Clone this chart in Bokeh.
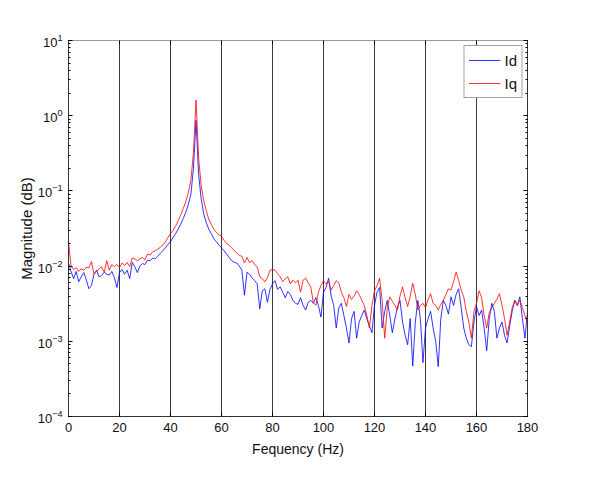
from bokeh.plotting import figure
from bokeh.models import (LinearAxis, LogAxis, SingleIntervalTicker, LogTicker,
                          CustomJSTickFormatter, Legend, LegendItem)
from bokeh.embed import file_html
from bokeh.resources import INLINE

freq = list(range(0, 181))

id_mag = [
    0.0110, 0.0085, 0.0068, 0.0085, 0.0062, 0.0072, 0.0082, 0.0065, 0.0050, 0.0055,
    0.0078, 0.0088, 0.0072, 0.0075, 0.0083, 0.0078, 0.0076, 0.0085, 0.0070, 0.0052,
    0.0082, 0.0090, 0.0078, 0.0088, 0.0068, 0.0112, 0.0098, 0.0082, 0.0100, 0.0108,
    0.0105, 0.0120, 0.0118, 0.0128, 0.0125, 0.0135, 0.0148, 0.0160, 0.0175, 0.0195,
    0.021, 0.024, 0.027, 0.031, 0.036, 0.043, 0.052, 0.066, 0.090, 0.20,
    0.87, 0.17, 0.080, 0.050, 0.038, 0.031, 0.027, 0.023, 0.021, 0.019,
    0.0175, 0.0160, 0.0145, 0.0130, 0.0118, 0.0112, 0.0110, 0.0100, 0.0088, 0.0041,
    0.0083, 0.0078, 0.0070, 0.0064, 0.0058, 0.0027, 0.0047, 0.0050, 0.0033, 0.0049,
    0.0058, 0.0064, 0.0049, 0.0053, 0.0045, 0.0038, 0.0046, 0.0042, 0.0035, 0.0032,
    0.0031, 0.0038, 0.0030, 0.0026, 0.0033, 0.0035, 0.0032, 0.0038, 0.0030, 0.0021,
    0.0045, 0.0052, 0.0069, 0.0040, 0.0030, 0.0015, 0.0028, 0.0032, 0.0022, 0.0015,
    0.00095, 0.0020, 0.0025, 0.0011, 0.0018, 0.0022, 0.0026, 0.0020, 0.0016, 0.0013,
    0.0030, 0.0045, 0.0052, 0.0015, 0.0025, 0.0035, 0.0022, 0.0013, 0.0020, 0.0028,
    0.0035, 0.0018, 0.0012, 0.0009, 0.0020, 0.00047, 0.0018, 0.0035, 0.0020, 0.00052,
    0.0015, 0.0020, 0.0025, 0.0015, 0.0010, 0.00046, 0.0020, 0.0035, 0.0030, 0.0023,
    0.0039, 0.0030, 0.0042, 0.0050, 0.0028, 0.0015, 0.0011, 0.0009, 0.00085, 0.0018,
    0.0029, 0.0022, 0.0026, 0.0015, 0.00075, 0.0020, 0.0032, 0.0025, 0.0011, 0.0015,
    0.0018, 0.0012, 0.00095, 0.0016, 0.0025, 0.0035, 0.0030, 0.0039, 0.0020, 0.0011,
    0.0025,
]

iq_mag = [
    0.021, 0.0100, 0.0090, 0.0095, 0.0085, 0.0092, 0.0088, 0.0097, 0.0095, 0.0115,
    0.0078, 0.0085, 0.0092, 0.0098, 0.0082, 0.0118, 0.0088, 0.0105, 0.0098, 0.0105,
    0.0095, 0.0110, 0.0102, 0.0112, 0.0098, 0.0128, 0.0125, 0.0118, 0.0125, 0.0130,
    0.0122, 0.0145, 0.0140, 0.0155, 0.0160, 0.0168, 0.0178, 0.0190, 0.0210, 0.0240,
    0.027, 0.030, 0.034, 0.040, 0.048, 0.058, 0.072, 0.095, 0.14, 0.32,
    1.62, 0.28, 0.12, 0.075, 0.055, 0.042, 0.036, 0.031, 0.028, 0.026,
    0.025, 0.022, 0.020, 0.019, 0.0175, 0.0160, 0.0150, 0.0138, 0.0135, 0.0110,
    0.0130, 0.0112, 0.0118, 0.0105, 0.0098, 0.0072, 0.0068, 0.0062, 0.0070, 0.0088,
    0.0090, 0.0088, 0.0080, 0.0072, 0.0062, 0.0068, 0.0072, 0.0058, 0.0065, 0.0060,
    0.0065, 0.0045, 0.0065, 0.0069, 0.0060, 0.0053, 0.0033, 0.0030, 0.0045, 0.0055,
    0.0064, 0.0058, 0.0062, 0.0048, 0.0055, 0.0064, 0.0060, 0.0045, 0.0038, 0.0029,
    0.0042, 0.0036, 0.0040, 0.0047, 0.0042, 0.0035, 0.0030, 0.0022, 0.0015, 0.0030,
    0.0047, 0.0055, 0.0069, 0.0035, 0.0011, 0.0028, 0.0039, 0.0034, 0.0030, 0.0026,
    0.0040, 0.0053, 0.0038, 0.0029, 0.0040, 0.0059, 0.0042, 0.0026, 0.0030, 0.0032,
    0.0028, 0.0036, 0.0043, 0.0032, 0.0030, 0.0026, 0.0031, 0.0035, 0.0042, 0.0050,
    0.0048, 0.0062, 0.0083, 0.0065, 0.0048, 0.0039, 0.0025, 0.0018, 0.0011, 0.0025,
    0.0032, 0.0047, 0.0038, 0.0022, 0.0015, 0.0024, 0.0028, 0.0032, 0.0036, 0.0043,
    0.0030, 0.0020, 0.0012, 0.0018, 0.0028, 0.0035, 0.0030, 0.0035, 0.0028, 0.0022,
    0.0017,
]

x_label = "Fequency (Hz)"
y_label = "Magnitude (dB)"
series_names = ["Id", "Iq"]

FONT = "Liberation Sans"

p = figure(width=591, height=489, x_range=(0, 180), y_range=(1e-4, 10),
           y_axis_type="log", output_backend="svg", toolbar_location=None,
           min_border_left=68, min_border_right=64, min_border_top=40,
           min_border_bottom=73)
p.background_fill_color = "white"
p.border_fill_color = "white"
p.outline_line_color = "#444444"
p.outline_line_width = 1

# grid: vertical only
p.ygrid.visible = False
p.xgrid.ticker = SingleIntervalTicker(interval=20)
p.xgrid.grid_line_color = "#3a3a3a"
p.xgrid.grid_line_width = 1

# bottom axis
xa = p.xaxis[0]
xa.ticker = SingleIntervalTicker(interval=20)
xa.major_tick_in = 4
xa.major_tick_out = 0
xa.minor_tick_in = 0
xa.minor_tick_out = 0
xa.axis_line_color = "#333333"
xa.major_tick_line_color = "#000000"
xa.major_label_text_font = FONT
xa.major_label_text_font_size = "13px"
xa.major_label_text_color = "#111111"
xa.major_label_standoff = 6
xa.axis_label = x_label
xa.axis_label_text_font = FONT
xa.axis_label_text_font_size = "14px"
xa.axis_label_text_font_style = "normal"
xa.axis_label_text_color = "#111111"
xa.axis_label_standoff = 6

# left axis
ya = p.yaxis[0]
ya.ticker = LogTicker(num_minor_ticks=10)
ya.major_tick_in = 4
ya.major_tick_out = 0
ya.minor_tick_in = 2
ya.minor_tick_out = 0
ya.axis_line_color = "#333333"
ya.major_label_text_font = FONT
ya.major_label_text_font_size = "13px"
ya.major_label_text_color = "#111111"
ya.major_label_standoff = 6
ya.axis_label = y_label
ya.axis_label_text_font = FONT
ya.axis_label_text_font_size = "15px"
ya.axis_label_text_font_style = "normal"
ya.axis_label_text_color = "#111111"
ya.axis_label_standoff = 0

blank = CustomJSTickFormatter(code="return ''")

top = LinearAxis(ticker=SingleIntervalTicker(interval=20), formatter=blank,
                 major_tick_in=4, major_tick_out=0, minor_tick_in=0, minor_tick_out=0,
                 axis_line_color="#999999", major_label_standoff=0)
p.add_layout(top, "above")

right = LogAxis(ticker=LogTicker(num_minor_ticks=10), formatter=blank,
                major_tick_in=4, major_tick_out=0, minor_tick_in=2, minor_tick_out=0,
                axis_line_color="#333333", major_label_standoff=0)
p.add_layout(right, "right")

r_id = p.line(freq, id_mag, line_color="#0000FF", line_width=1, line_alpha=0.8)
r_iq = p.line(freq, iq_mag, line_color="#FF0000", line_width=1, line_alpha=0.8)

legend = Legend(items=[LegendItem(label=series_names[0], renderers=[r_id]),
                       LegendItem(label=series_names[1], renderers=[r_iq])],
                location="top_right")
legend.margin = 5
legend.padding = 4
legend.spacing = 3
legend.glyph_width = 32
legend.glyph_height = 20
legend.label_height = 20
legend.label_width = 10
legend.label_standoff = 4
legend.label_text_font = FONT
legend.label_text_font_size = "15px"
legend.label_text_color = "#111111"
legend.border_line_color = "#444444"
legend.border_line_width = 1
legend.background_fill_color = "white"
legend.background_fill_alpha = 1.0
p.add_layout(legend)

open("out.html", "w").write(file_html(p, INLINE))
